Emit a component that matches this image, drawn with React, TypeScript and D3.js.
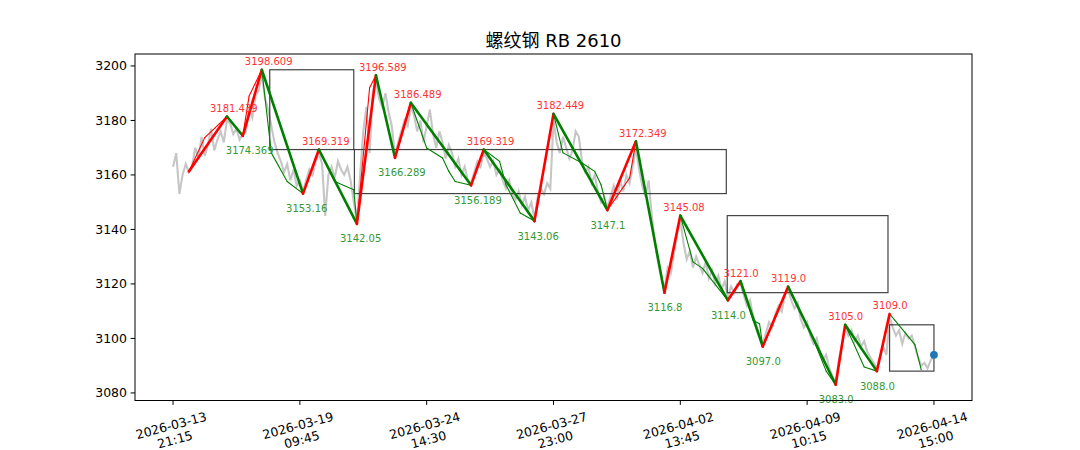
import React from 'react';
import * as d3 from 'd3';

// Gray price series (close), one value per bar index
const closes: number[] = [
  3163, 3168, 3153, 3160, 3164, 3161,
  3163, 3170, 3166, 3174, 3167, 3171, 3177, 3169, 3173, 3176, 3172, 3180,
  3179, 3175, 3177, 3173, 3175,
  3176, 3184, 3181, 3189, 3191, 3197,
  3188, 3184, 3178, 3172, 3168, 3165, 3161, 3164, 3158, 3162, 3156, 3158, 3154,
  3158, 3162, 3160, 3165, 3168,
  3164, 3145, 3160, 3163, 3159, 3165, 3162, 3160, 3163, 3158, 3150, 3143,
  3160, 3176, 3185, 3168, 3190, 3195,
  3188, 3185, 3190, 3183, 3178, 3167,
  3172, 3176, 3180, 3178, 3185,
  3182, 3176, 3180, 3172, 3178, 3184, 3175, 3170, 3176, 3172, 3166, 3171, 3168, 3163, 3166, 3160, 3163, 3158, 3157,
  3161, 3165, 3163, 3168,
  3166, 3163, 3165, 3160, 3162, 3158, 3155, 3158, 3153, 3151, 3154, 3149, 3152, 3147, 3150, 3144,
  3152, 3155, 3153, 3157, 3155, 3180,
  3172, 3168, 3174, 3170, 3166, 3169, 3176, 3174, 3165, 3161, 3163, 3157, 3160, 3154, 3150, 3152, 3148,
  3152, 3156, 3151, 3158, 3154, 3160, 3157, 3163, 3170,
  3162, 3156, 3152, 3158, 3145, 3135, 3128, 3122, 3118,
  3126, 3124, 3131, 3138, 3144,
  3135, 3129, 3132, 3126, 3130, 3127, 3124, 3128, 3122, 3125, 3120, 3123, 3118, 3121, 3115,
  3119, 3117, 3120, 3120,
  3116, 3112, 3114, 3108, 3105, 3101, 3098,
  3102, 3106, 3104, 3109, 3112, 3110, 3116, 3118,
  3114, 3111, 3113, 3107, 3104, 3106, 3101, 3098, 3100, 3095, 3092, 3094, 3089, 3086, 3084,
  3092, 3098, 3104,
  3101, 3103, 3099, 3101, 3097, 3099, 3095, 3093, 3091, 3089,
  3093, 3097, 3094, 3108,
  3104, 3101, 3103, 3098, 3102, 3100, 3101, 3097, 3093, 3090, 3091, 3089, 3092, 3094,
];

// Main zigzag pivots
const pivotIdx: number[] = [5, 17, 22, 28, 41, 46, 58, 64, 70, 75, 94, 98, 114, 120, 137, 146, 155, 160, 175, 179, 186, 194, 209, 212, 222, 226];
const pivotVal: number[] = [3161.3, 3181.439, 3174.369, 3198.609, 3153.16, 3169.319, 3142.05, 3196.589, 3166.289, 3186.489, 3156.189, 3169.319, 3143.06, 3182.449, 3147.1, 3172.349, 3116.8, 3145.08, 3114.0, 3121.0, 3097.0, 3119.0, 3083.0, 3105.0, 3088.0, 3109.0];
const pivotLabels: string[] = ['', '3181.439', '3174.369', '3198.609', '3153.16', '3169.319', '3142.05', '3196.589', '3166.289', '3186.489', '3156.189', '3169.319', '3143.06', '3182.449', '3147.1', '3172.349', '3116.8', '3145.08', '3114.0', '3121.0', '3097.0', '3119.0', '3083.0', '3105.0', '3088.0', '3109.0'];

// Secondary (thin) zigzag
const thinIdx: number[] = [5, 10, 17, 22, 24, 28, 31, 36, 41, 46, 51, 57, 58, 62, 64, 70, 75, 80, 85, 87, 89, 94, 98, 103, 105, 109.5, 114, 120, 123, 129, 133, 135, 137, 144, 146, 155, 160, 164, 167, 175, 179, 183, 185, 186, 194, 201, 206, 209, 212, 218, 222, 226, 234, 236];
const thinVal: number[] = [3161.3, 3173.7, 3181.439, 3174.369, 3189, 3198.609, 3168.1, 3157.6, 3153.16, 3169.319, 3157.6, 3154.6, 3142.05, 3192, 3196.589, 3166.289, 3186.489, 3169.9, 3166.2, 3161.3, 3157.6, 3156.189, 3169.319, 3165, 3156.4, 3146, 3143.06, 3182.449, 3168.1, 3164.4, 3161.3, 3156.4, 3147.1, 3158.9, 3172.349, 3116.8, 3145.08, 3128.1, 3125.7, 3114.0, 3121.0, 3106.6, 3105.4, 3097.0, 3119.0, 3102.5, 3088, 3083.0, 3105.0, 3089.5, 3088.0, 3109.0, 3097.7, 3088.5];

// Boxes (index range, price range)
const boxStart: number[] = [30.5, 57.2, 174.8, 226];
const boxEnd: number[] = [57, 174.5, 225.5, 240];
const boxLow: number[] = [3169.319, 3153.16, 3116.8, 3088.0];
const boxHigh: number[] = [3198.609, 3169.319, 3145.08, 3105.0];

// Last price marker
const lastIdx = 240;
const lastVal = 3094;

const xTickIdx: number[] = [0, 40, 80, 120, 160, 200, 240];
const xTickDate: string[] = ['2026-03-13', '2026-03-19', '2026-03-24', '2026-03-27', '2026-04-02', '2026-04-09', '2026-04-14'];
const xTickTime: string[] = ['21:15', '09:45', '14:30', '23:00', '13:45', '10:15', '15:00'];
const yTicks: number[] = [3080, 3100, 3120, 3140, 3160, 3180, 3200];

const TITLE = '螺纹钢 RB 2610';

export default function App() {
  const W = 1080, H = 450;
  const L = 135, R = 972, T = 54, B = 400.5;
  const N = closes.length - 1;
  const x = d3.scaleLinear().domain([-0.05 * N, 1.05 * N]).range([L, R]);
  const all = closes.concat(pivotVal);
  const mn = d3.min(all) as number;
  const mx = d3.max(all) as number;
  const pad = (mx - mn) * 0.05;
  const y = d3.scaleLinear().domain([mn - pad, mx + pad]).range([B, T]);

  const grayPath = d3.line<number>().x((_, i) => x(i)).y((d) => y(d))(closes) || '';

  const font = 'DejaVu Sans, Noto Sans CJK SC, sans-serif';
  const RED = '#ff0000';
  const GREEN = '#008000';

  const thinSegs = thinIdx.slice(1).map((_, k) => ({
    x1: x(thinIdx[k]), y1: y(thinVal[k]), x2: x(thinIdx[k + 1]), y2: y(thinVal[k + 1]),
    up: thinVal[k + 1] > thinVal[k],
  }));
  const thickSegs = pivotIdx.slice(1).map((_, k) => ({
    x1: x(pivotIdx[k]), y1: y(pivotVal[k]), x2: x(pivotIdx[k + 1]), y2: y(pivotVal[k + 1]),
    up: pivotVal[k + 1] > pivotVal[k],
  }));

  return (
    <svg width={W} height={H} style={{ position: 'absolute', left: 0, top: 0, background: '#fff' }} fontFamily={font}>
      <rect x={0} y={0} width={W} height={H} fill="#fff" />
      <defs>
        <clipPath id="plotclip">
          <rect x={L} y={T} width={R - L} height={B - T} />
        </clipPath>
      </defs>
      <g clipPath="url(#plotclip)">
        <path d={grayPath} fill="none" stroke="#c6c6c6" strokeWidth={2.1} strokeLinejoin="miter" />
        {boxStart.map((s, i) => (
          <rect key={'b' + i} x={x(s)} y={y(boxHigh[i])} width={x(boxEnd[i]) - x(s)} height={y(boxLow[i]) - y(boxHigh[i])}
            fill="none" stroke="#222" strokeWidth={1.2} strokeOpacity={0.85} />
        ))}
        {thinSegs.map((s, i) => (
          <line key={'t' + i} x1={s.x1} y1={s.y1} x2={s.x2} y2={s.y2} stroke={s.up ? RED : GREEN} strokeWidth={1.1} strokeLinecap="round" />
        ))}
        {thickSegs.map((s, i) => (
          <line key={'k' + i} x1={s.x1} y1={s.y1} x2={s.x2} y2={s.y2} stroke={s.up ? RED : GREEN} strokeWidth={2.6} strokeLinecap="round" />
        ))}
        <circle cx={x(lastIdx)} cy={y(lastVal)} r={3.9} fill="#1f77b4" />
      </g>
      {pivotLabels.map((lab, i) => {
        if (!lab) return null;
        const prev = pivotVal[i - 1];
        const isHigh = pivotVal[i] > prev;
        return (
          <text key={'l' + i} x={x(pivotIdx[i]) - 17} y={isHigh ? y(pivotVal[i]) - 4.5 : y(pivotVal[i]) + 18.5}
            fontSize={10} fill={isHigh ? '#ff3333' : '#339933'}>{lab}</text>
        );
      })}
      {/* spines */}
      <rect x={L} y={T} width={R - L} height={B - T} fill="none" stroke="#000" strokeWidth={1} />
      {/* y ticks */}
      {yTicks.map((t) => (
        <g key={'y' + t}>
          <line x1={L - 4.4} x2={L} y1={y(t)} y2={y(t)} stroke="#000" strokeWidth={1} />
          <text x={L - 8} y={y(t)} fontSize={12.5} textAnchor="end" dominantBaseline="central" fill="#000">{t}</text>
        </g>
      ))}
      {/* x ticks */}
      {xTickIdx.map((t, i) => (
        <g key={'x' + t}>
          <line x1={x(t)} x2={x(t)} y1={B} y2={B + 4.4} stroke="#000" strokeWidth={1} />
          <g transform={`translate(${x(t)},${432.5}) rotate(-15)`}>
            <text x={0} y={-7.3} fontSize={12.5} textAnchor="middle" dominantBaseline="central" fill="#000">{xTickDate[i]}</text>
            <text x={0} y={7.3} fontSize={12.5} textAnchor="middle" dominantBaseline="central" fill="#000">{xTickTime[i]}</text>
          </g>
        </g>
      ))}
      <text x={(L + R) / 2} y={46.5} fontSize={18} textAnchor="middle" fill="#000">{TITLE}</text>
    </svg>
  );
}
